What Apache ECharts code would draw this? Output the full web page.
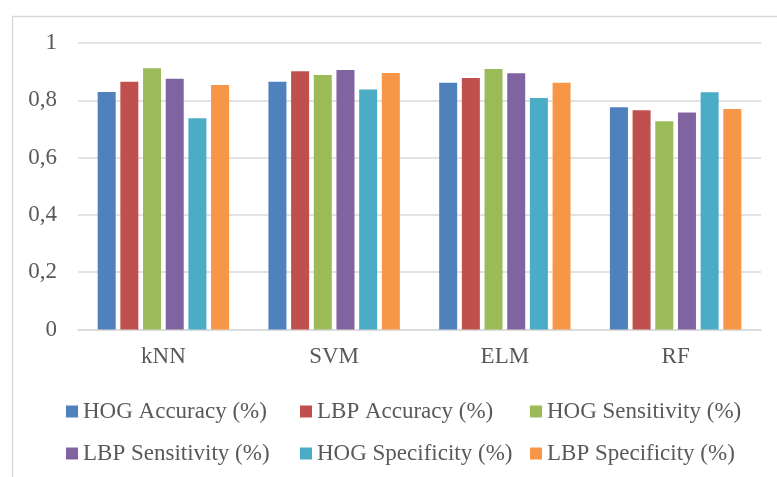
<!DOCTYPE html>
<html>
<head>
<meta charset="utf-8">
<script src="https://cdn.jsdelivr.net/npm/echarts@6/dist/echarts.min.js"></script>
<style>html,body{margin:0;padding:0;background:#fff;}#c{width:777px;height:477px;}</style>
</head>
<body>
<div id="c"></div>
<script>
const categories = ['kNN', 'SVM', 'ELM', 'RF'];
const seriesNames = ['HOG Accuracy (%)', 'LBP Accuracy (%)', 'HOG Sensitivity (%)', 'LBP Sensitivity (%)', 'HOG Specificity (%)', 'LBP Specificity (%)'];
const hogAccuracy = [0.829, 0.865, 0.861, 0.776];
const lbpAccuracy = [0.865, 0.901, 0.878, 0.765];
const hogSensitivity = [0.912, 0.888, 0.909, 0.727];
const lbpSensitivity = [0.875, 0.906, 0.894, 0.757];
const hogSpecificity = [0.737, 0.838, 0.808, 0.828];
const lbpSpecificity = [0.853, 0.895, 0.861, 0.770];
const yTicks = [0, 0.2, 0.4, 0.6, 0.8, 1];

const colors = ['#4F81BD', '#C0504D', '#9BBB59', '#8064A2', '#4BACC6', '#F79646'];
const values = [hogAccuracy, lbpAccuracy, hogSensitivity, lbpSensitivity, hogSpecificity, lbpSpecificity];
const font = '"Liberation Serif", "Times New Roman", serif';
const txt = '#595959';

const legendPos = [[66, 400], [300, 400], [530, 400], [66, 442], [300, 442], [530, 442]];
const legends = seriesNames.map((n, i) => ({
  data: [n], left: legendPos[i][0], top: legendPos[i][1],
  icon: 'rect', itemWidth: 12, itemHeight: 12, itemGap: 0, padding: 0,
  textStyle: { fontFamily: font, fontSize: 23, color: txt, padding: [0, 0, 0, 0] },
  selectedMode: false
}));

const chart = echarts.init(document.getElementById('c'), null, { renderer: 'canvas' });
chart.setOption({
  animation: false,
  color: colors,
  graphic: [{ type: 'rect', left: 10, top: 14, shape: { width: 800, height: 500 }, style: { fill: 'none', stroke: '#d9d9d9', lineWidth: 1.5 }, silent: true }],
  legend: legends,
  grid: { left: 78, right: 16, top: 43, bottom: 147.5, containLabel: false },
  xAxis: {
    type: 'category', data: categories,
    axisLine: { lineStyle: { color: '#d9d9d9', width: 1.5 } },
    axisTick: { show: false },
    axisLabel: { fontFamily: font, fontSize: 23, color: txt, margin: 16 }
  },
  yAxis: {
    type: 'value', min: yTicks[0], max: yTicks[yTicks.length - 1], interval: 0.2,
    axisLine: { show: false }, axisTick: { show: false },
    splitLine: { lineStyle: { color: '#d9d9d9', width: 1.5 } },
    axisLabel: { fontFamily: font, fontSize: 23, color: txt, margin: 21,
      formatter: v => String(Math.round(v * 10) / 10).replace('.', ',') }
  },
  series: seriesNames.map((n, i) => ({
    name: n, type: 'bar', data: values[i], barWidth: 18, barGap: '26%',
    itemStyle: { color: colors[i] }
  }))
});
</script>
</body>
</html>
